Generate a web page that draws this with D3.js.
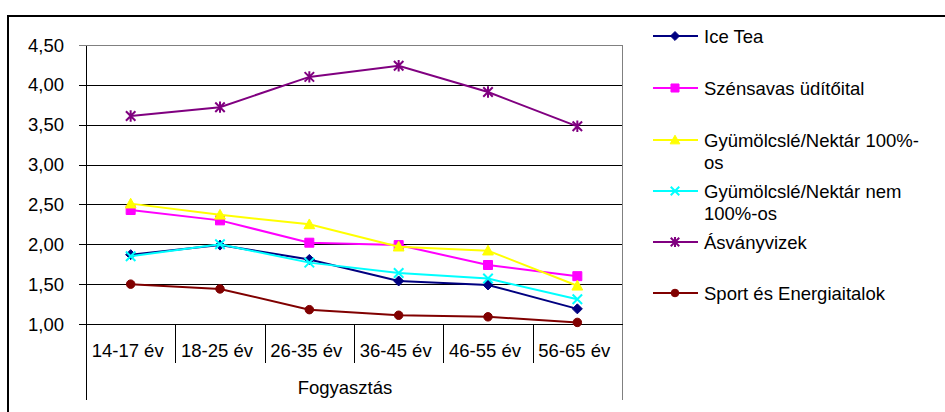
<!DOCTYPE html>
<html>
<head>
<meta charset="utf-8">
<script src="https://cdn.jsdelivr.net/npm/d3@7"></script>
<style>
  body { margin: 0; background: #fff; }
  svg { display: block; font-family: "Liberation Sans", Arial, sans-serif; }
</style>
</head>
<body>
<svg id="chart" width="945" height="412"></svg>
<script>
// Age groups on the category axis
const categories = ["14-17 év", "18-25 év", "26-35 év", "36-45 év", "46-55 év", "56-65 év"];

// Average consumption per drink type and age group
const iceTea      = [1.87, 1.99, 1.81, 1.54, 1.49, 1.19];
const szensavas   = [2.43, 2.30, 2.02, 1.99, 1.74, 1.60];
const gyumolcs100 = [2.51, 2.37, 2.25, 1.97, 1.92, 1.48];
const gyumolcsNem = [1.85, 2.00, 1.77, 1.64, 1.57, 1.31];
const asvanyviz   = [3.61, 3.72, 4.10, 4.24, 3.91, 3.48];
const sport       = [1.50, 1.44, 1.18, 1.11, 1.09, 1.02];

const seriesNames = [
  ["Ice Tea"],
  ["Szénsavas üdítőital"],
  ["Gyümölcslé/Nektár 100%-", "os"],
  ["Gyümölcslé/Nektár nem", "100%-os"],
  ["Ásványvizek"],
  ["Sport és Energiaitalok"]
];

const yTicks = [1.00, 1.50, 2.00, 2.50, 3.00, 3.50, 4.00, 4.50];
const xAxisTitle = "Fogyasztás";

// Marker shapes (Excel style)
const diamond = { draw(c, s) { const r = Math.sqrt(s) / 2 * 1.25; c.moveTo(0, -r); c.lineTo(r, 0); c.lineTo(0, r); c.lineTo(-r, 0); c.closePath(); } };
const square = { draw(c, s) { const r = Math.sqrt(s) / 2; c.rect(-r, -r, 2 * r, 2 * r); } };
const triangle = { draw(c, s) { const r = Math.sqrt(s) / 2 * 1.2; c.moveTo(0, -r); c.lineTo(r, r * 0.8); c.lineTo(-r, r * 0.8); c.closePath(); } };
const cross = { draw(c, s) { const r = Math.sqrt(s) / 2; c.moveTo(-r, -r); c.lineTo(r, r); c.moveTo(r, -r); c.lineTo(-r, r); } };
const star = { draw(c, s) { const r = Math.sqrt(s) / 2; c.moveTo(-r, -r); c.lineTo(r, r); c.moveTo(r, -r); c.lineTo(-r, r); c.moveTo(0, -r * 1.2); c.lineTo(0, r * 1.2); } };
const circle = { draw(c, s) { const r = Math.sqrt(s) / 2; c.moveTo(r, 0); c.arc(0, 0, r, 0, 2 * Math.PI); } };

const series = [
  { name: seriesNames[0], values: iceTea,      color: "#000080", type: diamond,  filled: true,  size: 64 },
  { name: seriesNames[1], values: szensavas,   color: "#FF00FF", type: square,   filled: true,  size: 81 },
  { name: seriesNames[2], values: gyumolcs100, color: "#FFFF00", type: triangle, filled: true,  size: 81 },
  { name: seriesNames[3], values: gyumolcsNem, color: "#00FFFF", type: cross,    filled: false, size: 90 },
  { name: seriesNames[4], values: asvanyviz,   color: "#800080", type: star,     filled: false, size: 90 },
  { name: seriesNames[5], values: sport,       color: "#800000", type: circle,   filled: true,  size: 72 }
];

const svg = d3.select("#chart");
const plot = { left: 86, right: 622, top: 45, bottom: 324 };
const fontSize = 18.5;

const x = d3.scaleBand().domain(categories).range([plot.left, plot.right]).padding(0);
const cx = d => x(d) + x.bandwidth() / 2;
const y = d3.scaleLinear().domain([1, 4.5]).range([plot.bottom, plot.top]);
const fmt = v => d3.format(".2f")(v).replace(".", ",");
const px = v => Math.round(v) + 0.5;

// Outer frame (top and left edges)
svg.append("line").attr("x1", 7).attr("x2", 945).attr("y1", 16).attr("y2", 16)
  .attr("stroke", "#000").attr("stroke-width", 2);
svg.append("line").attr("x1", 8).attr("x2", 8).attr("y1", 15).attr("y2", 412)
  .attr("stroke", "#000").attr("stroke-width", 2);

// Horizontal gridlines with tick stubs on the left
const grid = svg.append("g").attr("shape-rendering", "crispEdges");
grid.selectAll("line.g").data(yTicks.filter(t => t > 1 && t < 4.5)).join("line")
  .attr("x1", plot.left - 7).attr("x2", plot.right)
  .attr("y1", d => px(y(d))).attr("y2", d => px(y(d)))
  .attr("stroke", "#000");

// Plot border: top and right in gray, extended down past the category labels
grid.append("line").attr("x1", plot.left - 7).attr("x2", plot.right + 1)
  .attr("y1", px(y(4.5))).attr("y2", px(y(4.5))).attr("stroke", "#808080");
grid.append("line").attr("x1", px(plot.right)).attr("x2", px(plot.right))
  .attr("y1", px(y(4.5))).attr("y2", 400).attr("stroke", "#808080");

// Value axis
grid.append("line").attr("x1", px(plot.left)).attr("x2", px(plot.left))
  .attr("y1", px(y(4.5))).attr("y2", 400).attr("stroke", "#000");
svg.append("g").selectAll("text").data(yTicks).join("text")
  .attr("x", 64).attr("y", d => y(d) + 6.5)
  .attr("text-anchor", "end").attr("font-size", fontSize).attr("fill", "#000")
  .text(fmt);

// Category axis
grid.append("line").attr("x1", plot.left - 7).attr("x2", plot.right + 1)
  .attr("y1", px(y(1))).attr("y2", px(y(1))).attr("stroke", "#000");
grid.selectAll("line.sep").data(categories.slice(1)).join("line")
  .attr("x1", d => px(x(d))).attr("x2", d => px(x(d)))
  .attr("y1", px(y(1))).attr("y2", 363).attr("stroke", "#000");
svg.append("g").selectAll("text").data(categories).join("text")
  .attr("x", d => cx(d) - 3).attr("y", 357)
  .attr("text-anchor", "middle").attr("font-size", fontSize).attr("fill", "#000")
  .text(d => d);
svg.append("text").attr("x", 345).attr("y", 394)
  .attr("text-anchor", "middle").attr("font-size", fontSize).attr("fill", "#000")
  .text(xAxisTitle);

// Lines and markers
const line = d3.line().x((d, i) => cx(categories[i])).y(d => y(d));
const drawMarker = (sel, s, scale) => {
  sel.attr("d", d3.symbol().type(s.type).size(s.size * scale)())
    .attr("fill", s.filled ? s.color : "none")
    .attr("stroke", s.color)
    .attr("stroke-width", s.filled ? 1 : 2);
};

series.forEach(s => {
  const g = svg.append("g");
  g.append("path").datum(s.values).attr("d", line)
    .attr("fill", "none").attr("stroke", s.color).attr("stroke-width", 2);
  g.selectAll("path.m").data(s.values).join("path")
    .attr("transform", (d, i) => `translate(${cx(categories[i])},${y(d)})`)
    .call(sel => drawMarker(sel, s, 1));
});

// Legend
const legendRows = [36, 88, 140, 191, 242, 293];
const legend = svg.append("g");
series.forEach((s, i) => {
  const ly = legendRows[i];
  legend.append("line").attr("x1", 653).attr("x2", 698).attr("y1", ly).attr("y2", ly)
    .attr("stroke", s.color).attr("stroke-width", 2);
  legend.append("path").attr("transform", `translate(675,${ly})`)
    .call(sel => drawMarker(sel, s, 0.8));
  const t = legend.append("text").attr("x", 704).attr("y", ly + 6.5)
    .attr("font-size", fontSize).attr("fill", "#000");
  s.name.forEach((part, k) => {
    t.append("tspan").attr("x", 704).attr("dy", k === 0 ? 0 : 22).text(part);
  });
});
</script>
</body>
</html>
